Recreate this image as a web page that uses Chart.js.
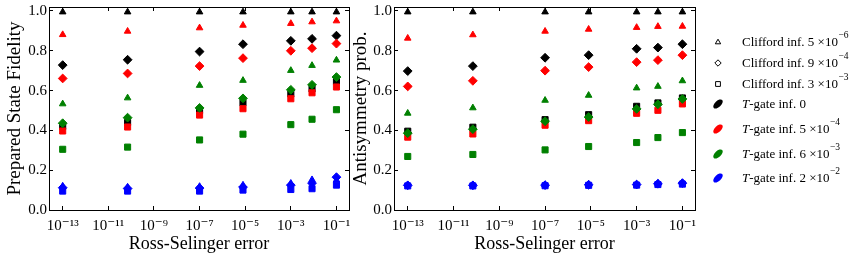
<!DOCTYPE html>
<html>
<head>
<meta charset="utf-8">
<script src="https://cdn.jsdelivr.net/npm/chart.js@4.4.1/dist/chart.umd.min.js"></script>
<style>
html, body { margin: 0; padding: 0; background: #ffffff; }
#wrap { position: relative; width: 863px; height: 259px; overflow: hidden; background: #ffffff; }
canvas { position: absolute; top: 0; }
#c1 { left: 0; }
#c2 { left: 350px; }
</style>
</head>
<body>
<div id="wrap">
  <canvas id="c1" width="355" height="259"></canvas>
  <canvas id="c2" width="513" height="259"></canvas>
</div>
<script>
// ---------------- data ----------------
const rsErrors = [1e-13, 7e-11, 1e-7, 8e-6, 1e-3, 8.5e-3, 1e-1];
const xTickExponents = [-13, -11, -9, -7, -5, -3, -1];
const yTickValues = [0, 0.2, 0.4, 0.6, 0.8, 1.0];

// Legend texts
const cliffordInfMant = ['5', '9', '3'];
const cliffordInfExp = ['\u22126', '\u22124', '\u22123'];
const tGateInfMant = ['0', '5', '6', '2'];
const tGateInfExp = ['', '\u22124', '\u22123', '\u22122'];

// Panel 1: Prepared State Fidelity  (T-gate colour x Clifford marker)
const fidBlackTri = [0.995, 0.995, 0.995, 0.995, 0.995, 0.995, 0.995];
const fidBlackDia = [0.728, 0.755, 0.796, 0.833, 0.850, 0.860, 0.876];
const fidBlackSq  = [0.420, 0.440, 0.500, 0.538, 0.583, 0.608, 0.646];
const fidRedTri   = [0.881, 0.898, 0.915, 0.928, 0.937, 0.945, 0.950];
const fidRedDia   = [0.661, 0.686, 0.723, 0.763, 0.800, 0.813, 0.836];
const fidRedSq    = [0.397, 0.417, 0.477, 0.509, 0.559, 0.589, 0.618];
const fidGreenTri = [0.533, 0.563, 0.626, 0.651, 0.701, 0.726, 0.753];
const fidGreenDia = [0.436, 0.464, 0.513, 0.561, 0.604, 0.629, 0.668];
const fidGreenSq  = [0.305, 0.316, 0.352, 0.381, 0.429, 0.456, 0.504];
const fidBlueTri  = [0.120, 0.115, 0.118, 0.125, 0.134, 0.152, 0.150];
const fidBlueDia  = [0.112, 0.108, 0.110, 0.115, 0.125, 0.135, 0.165];
const fidBlueSq   = [0.095, 0.095, 0.095, 0.100, 0.103, 0.107, 0.125];

// Panel 2: Antisymmetry prob.
const antBlackTri = [0.995, 0.995, 0.995, 0.995, 0.995, 0.995, 0.995];
const antBlackDia = [0.698, 0.723, 0.765, 0.778, 0.810, 0.816, 0.833];
const antBlackSq  = [0.396, 0.416, 0.454, 0.479, 0.521, 0.538, 0.563];
const antRedTri   = [0.863, 0.880, 0.898, 0.908, 0.917, 0.922, 0.923];
const antRedDia   = [0.621, 0.649, 0.700, 0.718, 0.743, 0.753, 0.778];
const antRedSq    = [0.366, 0.382, 0.426, 0.449, 0.486, 0.501, 0.533];
const antGreenTri = [0.486, 0.513, 0.551, 0.576, 0.613, 0.621, 0.649];
const antGreenDia = [0.386, 0.406, 0.446, 0.467, 0.508, 0.531, 0.558];
const antGreenSq  = [0.269, 0.279, 0.302, 0.319, 0.339, 0.364, 0.389];
const antBlueTri  = [0.126, 0.126, 0.127, 0.129, 0.130, 0.134, 0.137];
const antBlueDia  = [0.124, 0.124, 0.125, 0.127, 0.128, 0.132, 0.135];
const antBlueSq   = [0.121, 0.121, 0.122, 0.124, 0.125, 0.128, 0.130];

// ---------------- styling ----------------
const SERIF = "'Liberation Serif', 'Times New Roman', 'DejaVu Serif', serif";
const tColors = ['#000000', '#ff0000', '#008000', '#0000ff'];
const markerStyles = [
  { style: 'triangle', r: 3.8 },
  { style: 'rectRot', r: 4.4 },
  { style: 'rect', r: 4.3 }
];
const X_MIN = Math.pow(10, -13.6);
const X_MAX = Math.pow(10, -0.45);
const Y_MIN = 0;
const Y_MAX = 1.02;

const SUP = { '-': '\u207B', '0': '\u2070', '1': '\u00B9', '2': '\u00B2', '3': '\u00B3', '4': '\u2074',
              '5': '\u2075', '6': '\u2076', '7': '\u2077', '8': '\u2078', '9': '\u2079' };
function sup(n) { return String(n).split('').map(c => SUP[c] || c).join(''); }

function makeDatasets(series) {
  const ds = [];
  series.forEach((row, ci) => {
    row.forEach((vals, mi) => {
      ds.push({
        data: rsErrors.map((x, i) => ({ x: x, y: vals[i] })),
        pointStyle: markerStyles[mi].style,
        pointRadius: markerStyles[mi].r,
        pointHoverRadius: markerStyles[mi].r,
        backgroundColor: tColors[ci],
        borderColor: tColors[ci],
        borderWidth: 1,
        showLine: false,
        clip: false,
        order: -ds.length
      });
    });
  });
  return ds;
}

function zeroPad(s) { s.paddingLeft = 0; s.paddingRight = 0; s.paddingTop = 0; s.paddingBottom = 0; }

function makeScales(yTitle, yTitlePad, yWidth) {
  const grid = { drawOnChartArea: false, drawTicks: true, tickLength: -4, color: '#000000', lineWidth: 1 };
  const border = { display: true, color: '#000000', width: 1 };
  const xTicksBuild = s => { s.ticks = xTickExponents.map(e => ({ value: Math.pow(10, e) })); };
  const yTicksBuild = s => { s.ticks = yTickValues.map(v => ({ value: v })); };
  return {
    x: {
      type: 'logarithmic', position: 'bottom', min: X_MIN, max: X_MAX,
      grid: grid, border: border,
      afterBuildTicks: xTicksBuild,
      afterFit: s => { s.height = 49; zeroPad(s); },
      ticks: {
        color: '#000000', font: { family: SERIF, size: 15 }, padding: 11, maxRotation: 0, autoSkip: false,
        callback: v => '10' + sup(Math.round(Math.log10(v)))
      },
      title: { display: true, text: 'Ross-Selinger error', color: '#000000',
               font: { family: SERIF, size: 18 }, padding: { top: 0, bottom: 4 } }
    },
    x2: {
      type: 'logarithmic', position: 'top', min: X_MIN, max: X_MAX,
      grid: grid, border: border,
      afterBuildTicks: xTicksBuild,
      afterFit: s => { s.height = 0; zeroPad(s); },
      ticks: { display: false }
    },
    y: {
      type: 'linear', position: 'left', min: Y_MIN, max: Y_MAX,
      grid: grid, border: border,
      afterBuildTicks: yTicksBuild,
      afterFit: s => { s.width = yWidth; zeroPad(s); },
      ticks: { color: '#000000', font: { family: SERIF, size: 15 }, padding: 6,
               callback: v => Number(v).toFixed(1) },
      title: { display: true, text: yTitle, color: '#000000',
               font: { family: SERIF, size: 19 }, padding: { top: yTitlePad, bottom: 0 } }
    },
    y2: {
      type: 'linear', position: 'right', min: Y_MIN, max: Y_MAX,
      grid: grid, border: border,
      afterBuildTicks: yTicksBuild,
      afterFit: s => { s.width = 0; zeroPad(s); },
      ticks: { display: false }
    }
  };
}

// ---------------- legend (drawn on the right panel) ----------------
function drawOpenMarker(ctx, kind, x, y) {
  ctx.beginPath();
  if (kind === 0) {
    ctx.moveTo(x, y - 2.8); ctx.lineTo(x + 2.7, y + 1.8); ctx.lineTo(x - 2.7, y + 1.8); ctx.closePath();
  } else if (kind === 1) {
    ctx.moveTo(x, y - 3.2); ctx.lineTo(x + 3.2, y); ctx.lineTo(x, y + 3.2); ctx.lineTo(x - 3.2, y); ctx.closePath();
  } else {
    ctx.rect(x - 2.4, y - 2.4, 4.8, 4.8);
  }
  ctx.stroke();
}
function drawLegendText(ctx, x, y, italicT, main, exp) {
  let cx = x;
  if (italicT) {
    ctx.font = 'italic 13px ' + SERIF;
    ctx.fillText('T', cx, y);
    cx += ctx.measureText('T').width;
  }
  ctx.font = '13px ' + SERIF;
  ctx.fillText(main, cx, y);
  cx += ctx.measureText(main).width;
  if (exp) {
    ctx.font = '9.5px ' + SERIF;
    ctx.fillText(exp, cx + 0.5, y - 7);
  }
}
const legendPlugin = {
  id: 'sideLegend',
  afterDraw(chart) {
    const { ctx, chartArea } = chart;
    const mx = chartArea.right + 23;
    const tx = chartArea.right + 47;
    const rows = [42, 63, 84, 104, 129, 154, 178];
    ctx.save();
    ctx.textBaseline = 'middle';
    ctx.textAlign = 'left';
    ctx.fillStyle = '#000000';
    ctx.strokeStyle = '#000000';
    ctx.lineWidth = 1;
    cliffordInfMant.forEach((m, i) => {
      const y = rows[i];
      drawOpenMarker(ctx, i, mx, y);
      drawLegendText(ctx, tx, y + 0.5, false, 'Clifford inf. ' + m + ' \u00D710', cliffordInfExp[i]);
    });
    tGateInfMant.forEach((m, i) => {
      const y = rows[3 + i];
      ctx.fillStyle = tColors[i];
      ctx.beginPath();
      ctx.ellipse(mx, y, 5.8, 3.1, -0.75, 0, Math.PI * 2);
      ctx.fill();
      ctx.fillStyle = '#000000';
      const main = '-gate inf. ' + m + (tGateInfExp[i] ? ' \u00D710' : '');
      drawLegendText(ctx, tx, y + 0.5, true, main, tGateInfExp[i]);
    });
    ctx.restore();
  }
};

const commonOptions = (yTitle, yTitlePad, yWidth, padRight) => ({
  responsive: false,
  animation: false,
  devicePixelRatio: 1,
  events: [],
  layout: { autoPadding: false, padding: { left: 0, right: padRight, top: 7, bottom: 0 } },
  plugins: { legend: { display: false }, tooltip: { enabled: false } },
  scales: makeScales(yTitle, yTitlePad, yWidth)
});

new Chart(document.getElementById('c1'), {
  type: 'scatter',
  data: { datasets: makeDatasets([
    [fidBlackTri, fidBlackDia, fidBlackSq],
    [fidRedTri, fidRedDia, fidRedSq],
    [fidGreenTri, fidGreenDia, fidGreenSq],
    [fidBlueTri, fidBlueDia, fidBlueSq]
  ]) },
  options: commonOptions('Prepared State Fidelity', 3.5, 49, 6)
});

new Chart(document.getElementById('c2'), {
  type: 'scatter',
  data: { datasets: makeDatasets([
    [antBlackTri, antBlackDia, antBlackSq],
    [antRedTri, antRedDia, antRedSq],
    [antGreenTri, antGreenDia, antGreenSq],
    [antBlueTri, antBlueDia, antBlueSq]
  ]) },
  options: commonOptions('Antisymmetry prob.', 0, 44, 168),
  plugins: [legendPlugin]
});
</script>
</body>
</html>
